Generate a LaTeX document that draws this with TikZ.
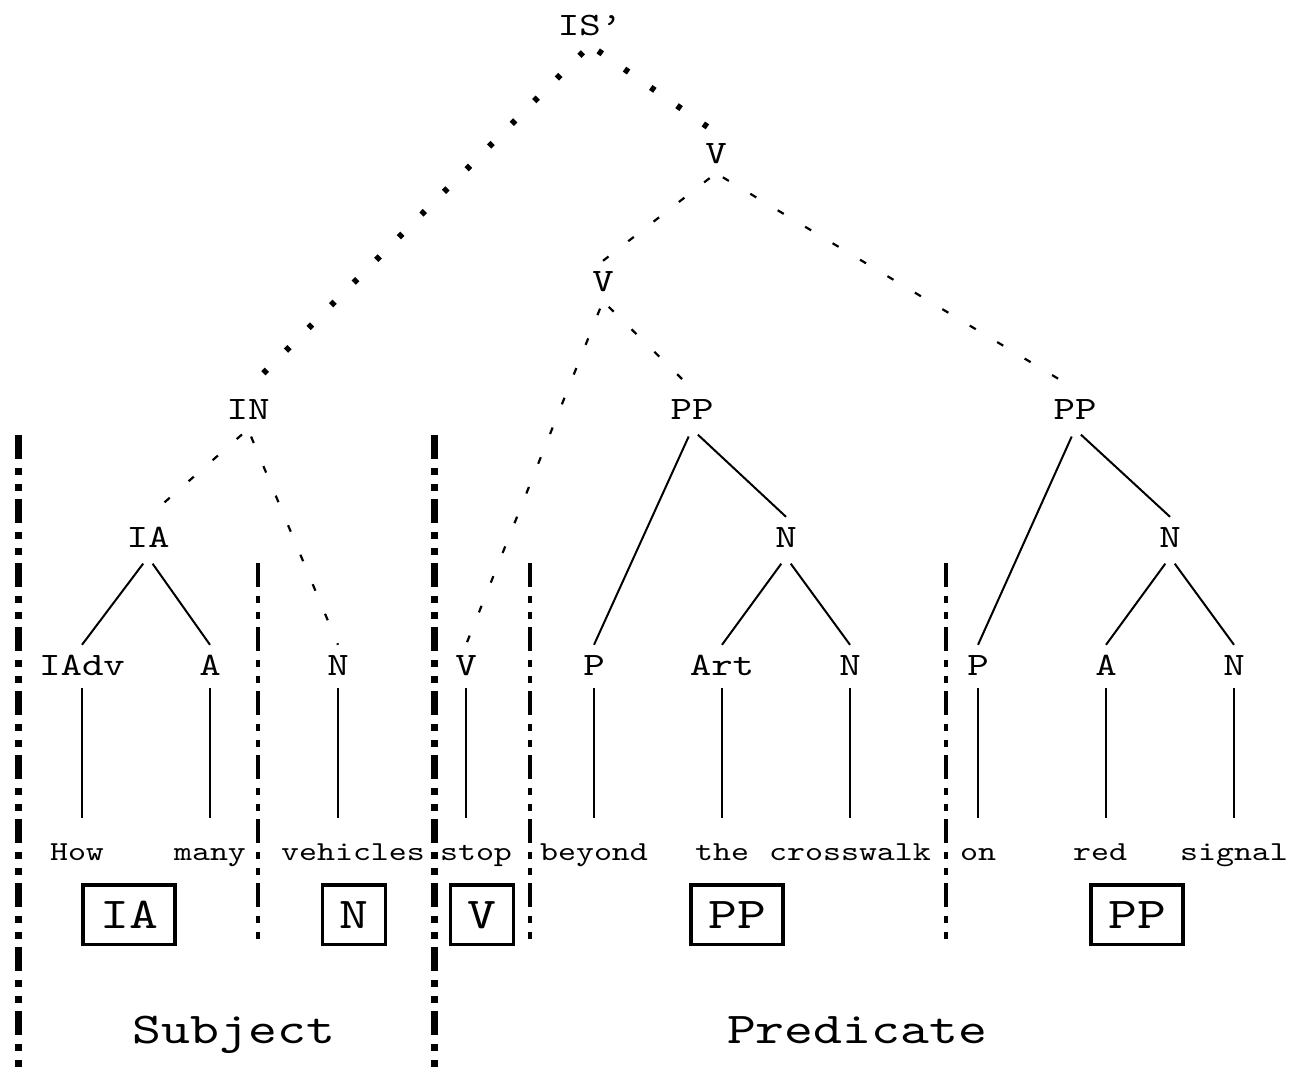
\documentclass[tikz,border=0pt]{standalone}
\usepackage{fontspec}
\usetikzlibrary{positioning}
\newfontfamily\cour{lmmono10-regular.otf}[FakeStretch=1.25]

\begin{document}
\begin{tikzpicture}[x=1pt,y=-1pt,node distance=128pt,on grid,
		cat/.style={font=\cour\fontsize{32.7}{34}\selectfont,inner xsep=0pt,inner ysep=10pt,text height=20pt,text depth=0pt},
		word/.style={font=\cour\fontsize{27.4}{30}\selectfont,inner sep=0pt,text height=17pt,text depth=6pt},
		tag/.style={draw,line width=3.5pt,font=\cour\fontsize{44}{48}\selectfont,inner xsep=17pt,inner ysep=0pt,text height=27pt,text depth=0pt,minimum height=59.5pt},
		part/.style={font=\cour\fontsize{44}{48}\selectfont,anchor=base},
		tree/.style={line width=2pt,shorten <=8pt},
		weak/.style={line width=2.2pt,dash pattern=on 7pt off 25pt,shorten <=8pt},
		dots/.style={line width=6pt,dash pattern=on 5pt off 27pt,shorten <=10pt},
		leaf/.style={line width=1.6pt,shorten <=3pt,shorten >=25pt},
		wall/.style={line width=7pt,dash pattern=on 24pt off 9pt on 7pt off 9pt on 7pt off 8pt},
		fence/.style={line width=4pt,dash pattern=on 24pt off 9pt on 7pt off 9pt on 7pt off 8pt}]
		\useasboundingbox[fill=white] (0,0) rectangle (1300,1068);
		
		% word classes
		\node[cat] (iadv) at (82,665)       {IAdv};
		\node[cat] (a1)   [right=of iadv]   {A};
		\node[cat] (n1)   [right=of a1]     {N};
		\node[cat] (v1)   [right=of n1]     {V};
		\node[cat] (p1)   [right=of v1]     {P};
		\node[cat] (art)  [right=of p1]     {Art};
		\node[cat] (n2)   [right=of art]    {N};
		\node[cat] (p2)   [right=of n2]     {P};
		\node[cat] (a2)   [right=of p2]     {A};
		\node[cat] (n3)   [right=of a2]     {N};
		
		% phrases
		\node[cat] (ia)   [above right=128pt and 66pt of iadv] {IA};
		\node[cat] (in)   [above right=128pt and 100pt of ia]  {IN};
		\node[cat] (n4)   [above right=128pt and 64pt of art]  {N};
		\node[cat] (pp1)  [above right=256pt and 98pt of p1]   {PP};
		\node[cat] (n5)   [above right=128pt and 64pt of a2]   {N};
		\node[cat] (pp2)  [above right=256pt and 97pt of p2]   {PP};
		\node[cat] (v2)   [above left=128pt and 89pt of pp1]   {V};
		\node[cat] (v3)   [above right=128pt and 113pt of v2]  {V};
		\node[cat] (top)  [above left=128pt and 126pt of v3]   {IS’};
		
		% words
		\node[word] (w1)  [below=189.5pt of iadv, xshift=-5pt] {How};
		\node[word] (w2)  [below=189.5pt of a1]               {many};
		\node[word] (w3)  [below=189.5pt of n1, xshift=15pt]  {vehicles};
		\node[word] (w4)  [below=189.5pt of v1, xshift=10pt]  {stop};
		\node[word] (w5)  [below=189.5pt of p1]               {beyond};
		\node[word] (w6)  [below=189.5pt of art]              {the};
		\node[word] (w7)  [below=189.5pt of n2]               {crosswalk};
		\node[word] (w8)  [below=189.5pt of p2]               {on};
		\node[word] (w9)  [below=189.5pt of a2, xshift=-6pt]  {red};
		\node[word] (w10) [below=189.5pt of n3]               {signal};
		
		\node[tag] (b1) at (129,914.5)  {IA};
		\node[tag] (b2) at (354,914.5)  {N};
		\node[tag] (b3) at (482,914.5)  {V};
		\node[tag] (b4) at (737,914.5)  {PP};
		\node[tag] (b5) at (1137,914.5) {PP};
		
		\node[part] (subj) at (234,1043) {Subject};
		\node[part] (pred) at (857,1043) {Predicate};
		
		\path[dots]
		(top.south) edge (in.north)
		(top.south) edge (v3.north);
		\path[weak]
		(v3.south) edge (v2.north)
		(v3.south) edge (pp2.north)
		(v2.south) edge (v1.north)
		(v2.south) edge (pp1.north)
		(in.south) edge (ia.north)
		(in.south) edge (n1.north);
		\path[tree]
		(ia.south) edge (iadv.north)
		(ia.south) edge (a1.north)
		(pp1.south) edge (p1.north)
		(pp1.south) edge (n4.north)
		(n4.south) edge (art.north)
		(n4.south) edge (n2.north)
		(pp2.south) edge (p2.north)
		(pp2.south) edge (n5.north)
		(n5.south) edge (a2.north)
		(n5.south) edge (n3.north);
		\foreach \c/\w in {iadv/w1,a1/w2,n1/w3,v1/w4,p1/w5,art/w6,n2/w7,p2/w8,a2/w9,n3/w10}
		\path[leaf] (\c.south) edge (\c.south |- \w.north);
		
		% separators
		\foreach \x in {18,434}
		\draw[wall] (\x,435) -- (\x,1068);
		\foreach \x in {258,530,946}
		\draw[fence] (\x,563) -- (\x,940);
\end{tikzpicture}
\end{document}
